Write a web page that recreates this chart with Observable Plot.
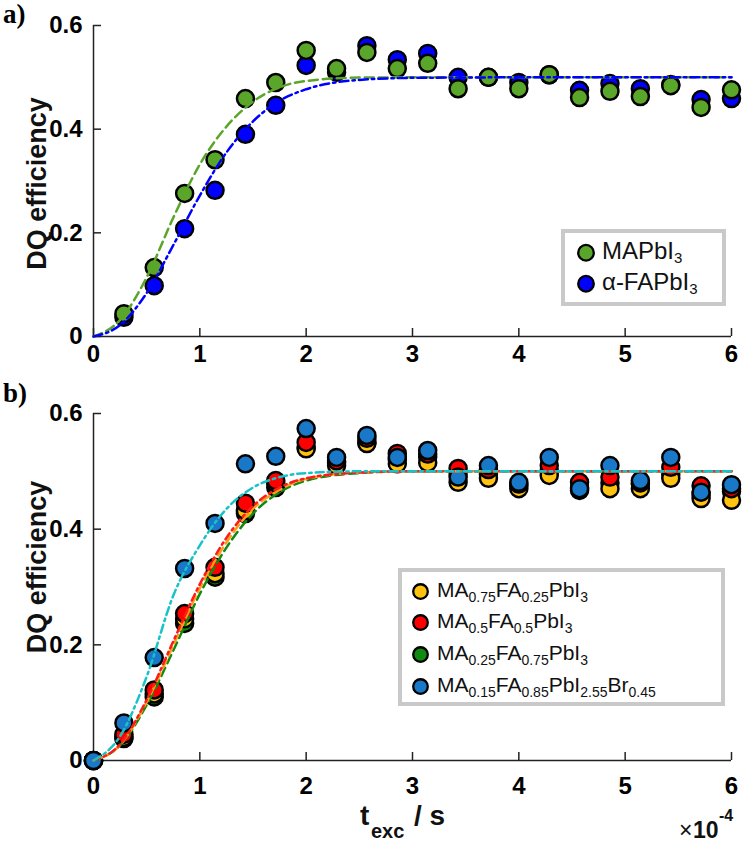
<!DOCTYPE html>
<html>
<head>
<meta charset="utf-8">
<script src="https://cdn.jsdelivr.net/npm/d3@7"></script>
<script src="https://cdn.jsdelivr.net/npm/@observablehq/plot@0.6"></script>
<style>
  html, body { margin: 0; padding: 0; background: #fff; }
  #wrap { position: relative; width: 742px; height: 845px; overflow: hidden; }
  #wrap > .panel { position: absolute; left: 0; }
  #overlay { position: absolute; left: 0; top: 0; pointer-events: none; }
</style>
</head>
<body>
<div id="wrap">
  <div id="pa" class="panel" style="top:0px"></div>
  <div id="pb" class="panel" style="top:375px"></div>
</div>
<script>
// ---------------- data ----------------
const xTicks = [0, 1, 2, 3, 4, 5, 6];
const xTickLabels = ["0", "1", "2", "3", "4", "5", "6"];
const yTicks = [0, 0.2, 0.4, 0.6];
const yTickLabels = ["0", "0.2", "0.4", "0.6"];

// panel a (t in units of 1e-4 s)
const tA = [0.286, 0.571, 0.857, 1.143, 1.429, 1.714, 2.0, 2.286, 2.571, 2.857, 3.143,
            3.429, 3.714, 4.0, 4.286, 4.571, 4.857, 5.143, 5.429, 5.714, 6.0];
const aMAPbI3 = [0.044, 0.133, 0.276, 0.341, 0.459, 0.49, 0.552, 0.517, 0.548, 0.517, 0.527,
                 0.478, 0.5, 0.478, 0.505, 0.461, 0.473, 0.463, 0.484, 0.442, 0.476];
const aFAPbI3 = [0.037, 0.098, 0.208, 0.282, 0.39, 0.446, 0.523, 0.51, 0.561, 0.534, 0.546,
                 0.5, 0.5, 0.49, 0.505, 0.475, 0.488, 0.478, 0.486, 0.457, 0.459];

// fit curves
const fitT = [0, 0.25, 0.5, 0.75, 1.0, 1.25, 1.5, 1.75, 2.0, 2.5, 3.0, 4.0, 5.0, 6.0];
const fitA_MAPbI3 = [0, 0.032, 0.114, 0.229, 0.332, 0.405, 0.453, 0.481, 0.493, 0.4995, 0.5, 0.5, 0.5, 0.5];
const fitA_FAPbI3 = [0, 0.022, 0.084, 0.176, 0.272, 0.355, 0.415, 0.455, 0.477, 0.495, 0.499, 0.5, 0.5, 0.5];

// panel b
const tB = [0, 0.286, 0.571, 0.857, 1.143, 1.429, 1.714, 2.0, 2.286, 2.571, 2.857, 3.143,
            3.429, 3.714, 4.0, 4.286, 4.571, 4.857, 5.143, 5.429, 5.714, 6.0];
const bMA075 = [0, 0.04, 0.115, 0.245, 0.323, 0.432, 0.479, 0.539, 0.51, 0.548, 0.513, 0.515,
                0.481, 0.488, 0.47, 0.493, 0.467, 0.47, 0.47, 0.488, 0.453, 0.45];
const bMA05  = [0, 0.045, 0.122, 0.254, 0.334, 0.445, 0.484, 0.55, 0.518, 0.557, 0.531, 0.53,
                0.505, 0.503, 0.478, 0.51, 0.481, 0.49, 0.48, 0.507, 0.475, 0.47];
const bMA025 = [0, 0.038, 0.11, 0.237, 0.317, 0.427, 0.472, 0.542, 0.515, 0.55, 0.52, 0.525,
                0.495, 0.495, 0.475, 0.5, 0.472, 0.48, 0.478, 0.495, 0.46, 0.465];
const bMA015 = [0, 0.065, 0.178, 0.332, 0.41, 0.513, 0.526, 0.574, 0.524, 0.562, 0.524, 0.536,
                0.49, 0.51, 0.481, 0.524, 0.47, 0.51, 0.484, 0.524, 0.464, 0.477];

const fitB_MA075 = [0, 0.027, 0.101, 0.199, 0.298, 0.377, 0.435, 0.468, 0.487, 0.498, 0.5, 0.5, 0.5, 0.5];
const fitB_MA05  = [0, 0.028, 0.105, 0.206, 0.305, 0.385, 0.44, 0.472, 0.488, 0.498, 0.5, 0.5, 0.5, 0.5];
const fitB_MA025 = [0, 0.026, 0.096, 0.19, 0.288, 0.368, 0.427, 0.464, 0.484, 0.497, 0.5, 0.5, 0.5, 0.5];
const fitB_MA015 = [0, 0.042, 0.145, 0.285, 0.372, 0.435, 0.472, 0.49, 0.497, 0.5, 0.5, 0.5, 0.5, 0.5];

// legend labels: [text, subscript] pieces
const legendA = [
  [["MAPbI", ""], ["3", "sub"]],
  [["α-FAPbI", ""], ["3", "sub"]]
];
const legendB = [
  [["MA", ""], ["0.75", "sub"], ["FA", ""], ["0.25", "sub"], ["PbI", ""], ["3", "sub"]],
  [["MA", ""], ["0.5", "sub"], ["FA", ""], ["0.5", "sub"], ["PbI", ""], ["3", "sub"]],
  [["MA", ""], ["0.25", "sub"], ["FA", ""], ["0.75", "sub"], ["PbI", ""], ["3", "sub"]],
  [["MA", ""], ["0.15", "sub"], ["FA", ""], ["0.85", "sub"], ["PbI", ""], ["2.55", "sub"], ["Br", ""], ["0.45", "sub"]]
];

// ---------------- styles ----------------
const colA = { green: "#5aa62a", blue: "#0000ff" };
const colB = { yellow: "#ffc20e", red: "#ff0000", green: "#108a10", blue: "#1a78c8" };
const lineB = { cyan: "#17c3c8", orange: "#ff9a1a", red: "#ff1a1a", green: "#108a10" };

const rows = (ts, vs) => ts.map((t, i) => ({ t, v: vs[i] }));

const W = 742, ML = 93, MR = 11;
const FONT = "'Liberation Sans', Arial, sans-serif";

function axesMarks(innerH, xPad) {
  const innerW = W - ML - MR;
  return [
    Plot.ruleX([0], { stroke: "#222", strokeWidth: 1.5 }),
    Plot.ruleY([0], { stroke: "#222", strokeWidth: 1.5 }),
    Plot.tickX(xTicks, { x: d => d, insetTop: innerH - 8, stroke: "#222", strokeWidth: 1.5 }),
    Plot.tickY(yTicks, { y: d => d, insetRight: innerW - 8, stroke: "#222", strokeWidth: 1.5 }),
    Plot.axisX(xTicks, { tickSize: 0, tickPadding: xPad, label: null,
      tickFormat: d => xTickLabels[xTicks.indexOf(d)], fontSize: 24, fontWeight: "bold", fontFamily: FONT }),
    Plot.axisY(yTicks, { tickSize: 0, tickPadding: 11, label: null,
      tickFormat: d => yTickLabels[yTicks.indexOf(d)], fontSize: 24, fontWeight: "bold", fontFamily: FONT })
  ];
}

const dotOpts = (fill) => ({ x: "t", y: "v", r: 8.5, fill, stroke: "#000", strokeWidth: 2.5 });
const lineOpts = (stroke, dash, off = 0) => ({ x: "t", y: "v", curve: "monotone-x", stroke, strokeWidth: 2.5,
  strokeDasharray: dash, strokeDashoffset: off });

// ---------------- panel a ----------------
const HA = 372, MTA = 25, MBA = 36;
const plotA = Plot.plot({
  width: W, height: HA, marginTop: MTA, marginBottom: MBA, marginLeft: ML, marginRight: MR,
  x: { domain: [0, 6] }, y: { domain: [0, 0.6] },
  style: { fontFamily: FONT, background: "transparent", overflow: "visible" },
  marks: [
    ...axesMarks(HA - MTA - MBA, 8),
    Plot.dot(rows(tA, aFAPbI3), dotOpts(colA.blue)),
    Plot.dot(rows(tA, aMAPbI3), dotOpts(colA.green)),
    Plot.line(rows(fitT, fitA_MAPbI3), lineOpts(colA.green, "9,5")),
    Plot.line(rows(fitT, fitA_FAPbI3), lineOpts(colA.blue, "9,4,2.5,4")),
    Plot.text(["DQ efficiency"], { frameAnchor: "left", rotate: -90, dx: -56, dy: 2.5,
      textAnchor: "middle", fontSize: 27, fontWeight: "bold", fontFamily: FONT, fill: "#111" })
  ]
});
document.getElementById("pa").appendChild(plotA);

// ---------------- panel b ----------------
const HB = 470, MTB = 38, MBB = 85;
const plotB = Plot.plot({
  width: W, height: HB, marginTop: MTB, marginBottom: MBB, marginLeft: ML, marginRight: MR,
  x: { domain: [0, 6] }, y: { domain: [0, 0.6] },
  style: { fontFamily: FONT, background: "transparent", overflow: "visible" },
  marks: [
    ...axesMarks(HB - MTB - MBB, 16),
    Plot.dot(rows(tB, bMA025), dotOpts(colB.green)),
    Plot.dot(rows(tB, bMA075), dotOpts(colB.yellow)),
    Plot.dot(rows(tB, bMA05), dotOpts(colB.red)),
    Plot.dot(rows(tB, bMA015), dotOpts(colB.blue)),
    Plot.line(rows(fitT, fitB_MA025), lineOpts(lineB.green, "9,5")),
    Plot.line(rows(fitT, fitB_MA075), lineOpts(lineB.orange, "9,5", 7)),
    Plot.line(rows(fitT, fitB_MA05), lineOpts(lineB.red, "7,4,2.5,4")),
    Plot.line(rows(fitT, fitB_MA015), lineOpts(lineB.cyan, "8,4,2.5,4")),
    Plot.text(["DQ efficiency"], { frameAnchor: "left", rotate: -90, dx: -56, dy: -20,
      textAnchor: "middle", fontSize: 27, fontWeight: "bold", fontFamily: FONT, fill: "#111" })
  ]
});
document.getElementById("pb").appendChild(plotB);

// ---------------- overlay: panel letters, x label, legends ----------------
const ov = d3.select("#wrap").append("svg").attr("id", "overlay")
  .attr("width", W).attr("height", 845).attr("font-family", FONT);

ov.append("text").attr("x", 3).attr("y", 23).attr("font-family", "'Liberation Serif', 'Times New Roman', serif")
  .attr("font-weight", "bold").attr("font-size", 27).text("a)");
ov.append("text").attr("x", 3).attr("y", 402).attr("font-family", "'Liberation Serif', 'Times New Roman', serif")
  .attr("font-weight", "bold").attr("font-size", 27).text("b)");

// x label t_exc / s
const xl = ov.append("text").attr("font-weight", "bold").attr("fill", "#111").attr("font-size", 28);
xl.append("tspan").attr("x", 360).attr("y", 825).text("t");
xl.append("tspan").attr("x", 371).attr("y", 838).attr("font-size", 20).text("exc");
xl.append("tspan").attr("x", 414).attr("y", 825).text("/ s");

// ×10^-4
const ex = ov.append("text").attr("fill", "#111").attr("font-size", 23);
ex.append("tspan").attr("x", 679).attr("y", 838).text("×");
ex.append("tspan").attr("x", 693).attr("y", 838).attr("font-weight", "bold").text("10");
ex.append("tspan").attr("x", 719).attr("y", 821).attr("font-size", 16).attr("font-weight", "bold").text("-4");

function legend(g, box, items, colors, fs, subFs, subDy, rowY, mx, tx, mr) {
  g.append("rect").attr("x", box[0]).attr("y", box[1]).attr("width", box[2]).attr("height", box[3])
    .attr("fill", "#fff").attr("stroke", "#c9c9c9").attr("stroke-width", 4);
  items.forEach((pieces, i) => {
    const by = rowY[i];
    g.append("circle").attr("cx", mx).attr("cy", by - fs * 0.26).attr("r", mr)
      .attr("fill", colors[i]).attr("stroke", "#000").attr("stroke-width", 2.3);
    const t = g.append("text").attr("x", tx).attr("y", by).attr("font-size", fs).attr("fill", "#111");
    let prevSub = false;
    pieces.forEach(([s, kind]) => {
      const sp = t.append("tspan").text(s);
      if (kind === "sub") {
        sp.attr("font-size", subFs).attr("dy", prevSub ? 0 : subDy);
        prevSub = true;
      } else {
        sp.attr("dy", prevSub ? -subDy : 0);
        prevSub = false;
      }
    });
  });
}

legend(ov.append("g"), [563, 231, 161, 73], legendA, [colA.green, colA.blue],
  24, 15, 4, [259, 290], 586, 602, 7.8);
legend(ov.append("g"), [400, 570, 323, 134], legendB, [colB.yellow, colB.red, colB.green, colB.blue],
  21, 14, 5, [597, 628, 660, 692], 420.5, 437, 7.3);
</script>
</body>
</html>
